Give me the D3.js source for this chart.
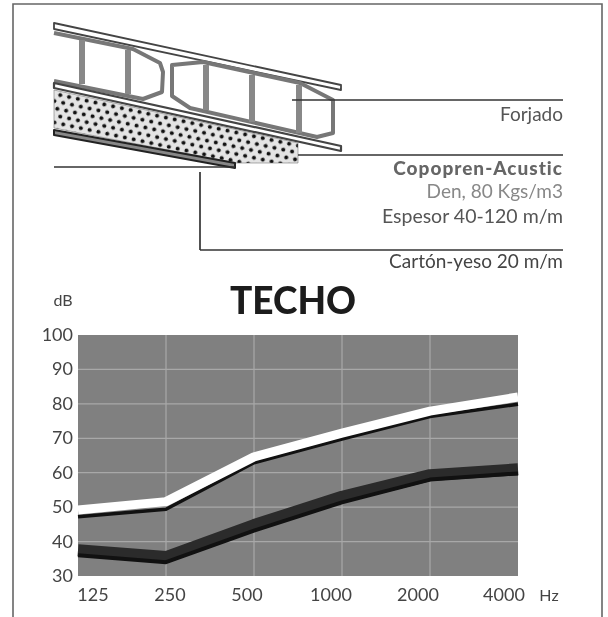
<!DOCTYPE html>
<html>
<head>
<meta charset="utf-8">
<script src="https://cdn.jsdelivr.net/npm/d3@7"></script>
<style>
  html, body { margin: 0; padding: 0; background: #fff; overflow: hidden; }
  svg { display: block; filter: blur(0.45px); }
  text { font-family: Lato, "Open Sans", sans-serif; }
</style>
</head>
<body>
<svg id="chart" width="608" height="617"></svg>
<script>
// chart values
var frequencies = ["125", "250", "500", "1000", "2000", "4000"];
var dbTicks = [30, 40, 50, 60, 70, 80, 90, 100];
var whiteCurve = [49.2, 51.6, 64.6, 71.5, 77.9, 82];
var whiteEdge = [47.2, 49.4, 62.9, 69.8, 76.3, 79.9];
var darkCurve = [37.5, 35.5, 44.8, 53, 59.3, 61];
var darkEdge = [36, 34, 43.2, 51.4, 58, 59.8];
// printed labels don't sit on their gridlines, they drift inwards
var labelNudge = [15, 4, -7, -11, -12, -14];

// cross-section sketch, in page pixels
var slabTop = [[54, 23], [341, 85], [341, 90], [54, 29]];
var leftBlock = [[54, 33], [133, 49], [160, 63], [163, 72], [162, 92], [143, 99], [54, 81]];
var rightBlock = [[172, 65], [203, 62], [300, 83], [333, 100], [333, 133], [317, 137], [190, 108], [172, 96]];
var webs = [[82, 40, 82, 84], [128, 50, 128, 94], [206, 65, 206, 110], [252, 75, 252, 122], [299, 85, 299, 133]];
var slabBottom = [[54, 83], [341, 146], [341, 151], [54, 88]];
var foam = [[54, 90], [298, 143], [298, 163], [236, 163], [54, 128]];
var board = [[54, 130], [235, 163], [235, 168], [54, 135]];
var leaderLines = [[292, 100, 563, 100], [298, 155, 563, 155], [54, 167, 235, 167], [200, 172, 200, 250], [200, 250, 563, 250]];
var captions = [
  { text: "Forjado", y: 121, size: 19, weight: 400, fill: "#555", spacing: 0 },
  { text: "Copopren-Acustic", y: 175, size: 19, weight: 900, fill: "#666", spacing: 1 },
  { text: "Den, 80 Kgs/m3", y: 198, size: 19, weight: 400, fill: "#888", spacing: 0 },
  { text: "Espesor 40-120 m/m", y: 223, size: 19.5, weight: 400, fill: "#555", spacing: 0 },
  { text: "Cartón-yeso 20 m/m", y: 268, size: 19, weight: 400, fill: "#444", spacing: 0 }
];

var svg = d3.select("#chart");
var polygon = d3.line().curve(d3.curveLinearClosed);
var openLine = d3.line();

// page frame, open at the bottom
svg.append("path").attr("d", openLine([[13, 617], [13, 4], [602, 4], [602, 617]]))
  .attr("fill", "none").attr("stroke", "#666").attr("stroke-width", 1.6);

// ---- sketch ----------------------------------------------------------------
var defs = svg.append("defs");
var dots = defs.append("pattern").attr("id", "dots").attr("patternUnits", "userSpaceOnUse")
  .attr("width", 9).attr("height", 14).attr("patternTransform", "rotate(12)");
dots.append("rect").attr("width", 9).attr("height", 14).attr("fill", "#e4e4e4");
dots.append("circle").attr("cx", 2.2).attr("cy", 3.5).attr("r", 2).attr("fill", "#111");
dots.append("circle").attr("cx", 6.7).attr("cy", 10.5).attr("r", 2).attr("fill", "#111");

var sketch = svg.append("g");
function shape(pts, fill, stroke, sw) {
  sketch.append("path").attr("d", polygon(pts)).attr("fill", fill)
    .attr("stroke", stroke).attr("stroke-width", sw).attr("stroke-linejoin", "round");
}
shape(slabTop, "#fff", "#444", 1.8);
// left block runs off the cut edge, so it stays open on that side
sketch.append("path").attr("d", openLine(leftBlock)).attr("fill", "#fff")
  .attr("stroke", "#777").attr("stroke-width", 4).attr("stroke-linejoin", "round");
shape(rightBlock, "#fff", "#777", 4);
sketch.selectAll("line.web").data(webs).enter().append("line").attr("class", "web")
  .attr("x1", function (d) { return d[0]; }).attr("y1", function (d) { return d[1]; })
  .attr("x2", function (d) { return d[2]; }).attr("y2", function (d) { return d[3]; })
  .attr("stroke", "#888").attr("stroke-width", 6);
shape(slabBottom, "#fff", "#444", 2.2);
shape(foam, "url(#dots)", "#777", 0.6);
shape(board, "#888", "#222", 2);
sketch.selectAll("line.leader").data(leaderLines).enter().append("line").attr("class", "leader")
  .attr("x1", function (d) { return d[0]; }).attr("y1", function (d) { return d[1]; })
  .attr("x2", function (d) { return d[2]; }).attr("y2", function (d) { return d[3]; })
  .attr("stroke", "#333").attr("stroke-width", 1.7);

svg.selectAll("text.caption").data(captions).enter().append("text").attr("class", "caption")
  .attr("x", 563).attr("y", function (d) { return d.y; }).attr("text-anchor", "end")
  .attr("font-size", function (d) { return d.size; }).attr("font-weight", function (d) { return d.weight; })
  .attr("letter-spacing", function (d) { return d.spacing; })
  .attr("fill", function (d) { return d.fill; }).text(function (d) { return d.text; });

// ---- chart -----------------------------------------------------------------
var x = d3.scalePoint().domain(frequencies).range([78, 518]);
var y = d3.scaleLinear().domain([30, 100]).range([576, 335]);

svg.append("rect").attr("x", x.range()[0]).attr("y", y(100))
  .attr("width", x.range()[1] - x.range()[0]).attr("height", y(30) - y(100))
  .attr("fill", "#808080");

svg.append("g").selectAll("line").data(dbTicks.slice(1, -1)).enter().append("line")
  .attr("x1", 78).attr("x2", 518)
  .attr("y1", function (d) { return y(d); }).attr("y2", function (d) { return y(d); })
  .attr("stroke", "#a8a8a8").attr("stroke-width", 1.2);
svg.append("g").selectAll("line").data(frequencies.slice(1, -1)).enter().append("line")
  .attr("y1", y(100)).attr("y2", y(30))
  .attr("x1", function (d) { return x(d); }).attr("x2", function (d) { return x(d); })
  .attr("stroke", "#a8a8a8").attr("stroke-width", 1.2);

var curve = d3.line().x(function (d, i) { return x(frequencies[i]); }).y(function (d) { return y(d); });
function series(values, color, width) {
  svg.append("path").attr("d", curve(values)).attr("fill", "none")
    .attr("stroke", color).attr("stroke-width", width).attr("stroke-linejoin", "round");
}
series(whiteEdge, "#111", 3.5);
series(whiteCurve, "#fff", 9);
series(darkCurve, "#2b2b2b", 12);
series(darkEdge, "#111", 4);

svg.append("g").selectAll("text").data(dbTicks).enter().append("text")
  .attr("x", 73).attr("y", function (d) { return y(d) + 6; }).attr("text-anchor", "end")
  .attr("font-size", 18).attr("fill", "#444").text(function (d) { return d; });
svg.append("g").selectAll("text").data(frequencies).enter().append("text")
  .attr("x", function (d, i) { return x(d) + labelNudge[i]; }).attr("y", 601)
  .attr("text-anchor", "middle").attr("font-size", 18).attr("fill", "#444")
  .text(function (d) { return d; });

svg.append("text").attr("x", 63).attr("y", 306).attr("text-anchor", "middle")
  .attr("font-size", 16).attr("fill", "#444").text("dB");
svg.append("text").attr("x", 293).attr("y", 314).attr("text-anchor", "middle")
  .attr("font-size", 37).attr("font-weight", 900).attr("fill", "#1c1c1c").text("TECHO");
svg.append("text").attr("x", 549).attr("y", 601).attr("text-anchor", "middle")
  .attr("font-size", 16).attr("fill", "#444").text("Hz");
</script>
</body>
</html>
